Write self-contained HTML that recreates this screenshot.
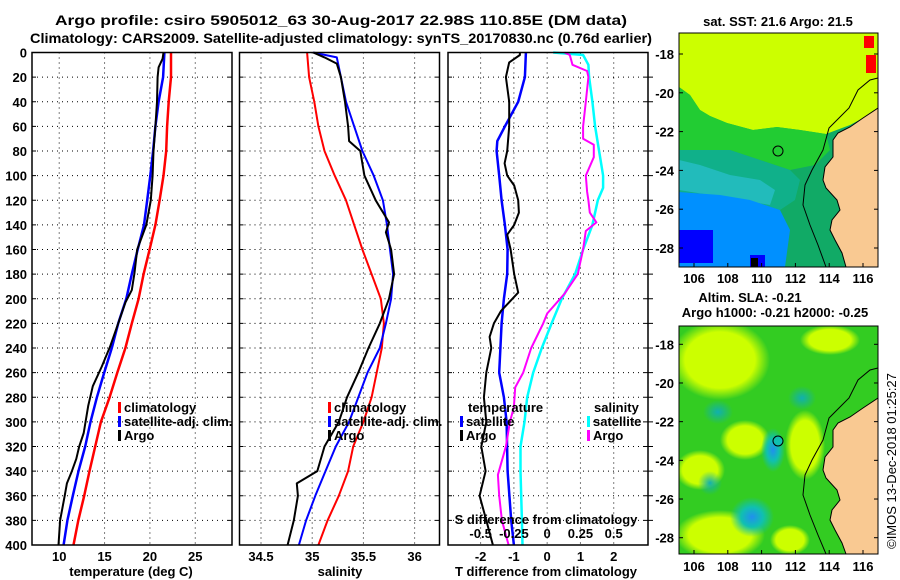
<!DOCTYPE html>
<html><head><meta charset="utf-8"><style>
html,body{margin:0;padding:0;background:#fff;}
svg{display:block;font-family:"Liberation Sans",sans-serif;font-weight:bold;}
</style></head><body>
<svg id="fig" width="900" height="580" viewBox="0 0 900 580" xmlns="http://www.w3.org/2000/svg">
<rect width="900" height="580" fill="#fff"/>
<text x="341" y="25" font-size="14" text-anchor="middle" textLength="572" lengthAdjust="spacingAndGlyphs">Argo profile: csiro 5905012_63 30-Aug-2017 22.98S 110.85E (DM data)</text>
<text x="341" y="43" font-size="14" text-anchor="middle" textLength="622" lengthAdjust="spacingAndGlyphs">Climatology: CARS2009. Satellite-adjusted climatology: synTS_20170830.nc (0.76d earlier)</text>

<!-- Map 1 -->
<g>
<text x="778" y="26" font-size="13" text-anchor="middle">sat. SST: 21.6 Argo: 21.5</text>
<clipPath id="c1"><rect x="679" y="33" width="199" height="234"/></clipPath>
<g clip-path="url(#c1)">
<rect x="679" y="33" width="199" height="234" fill="#11aa66"/>
<polygon fill="#ccff00" points="679,33 878,33 878,110 850,125 826,134 800,130 777,127 753,130 727,123 710,116 700,110 690,95 679,87"/>
<polygon fill="#22cc33" points="679,87 690,95 700,110 710,116 727,123 753,130 777,127 800,130 826,134 830,150 815,165 790,170 760,160 730,150 700,150 679,150"/>
<polygon fill="#10b08a" points="679,150 700,150 730,150 760,160 790,170 800,180 795,200 780,210 750,200 720,195 679,192"/>
<polygon fill="#22bbbb" points="679,160 700,165 730,175 760,180 775,190 770,205 740,200 710,195 679,190"/>
<polygon fill="#0090ff" points="679,192 720,195 750,200 780,210 790,230 785,267 679,267"/>
<rect x="679" y="230" width="34" height="33" fill="#0000ff"/>
<rect x="750" y="255" width="15" height="12" fill="#0000ff"/>
<rect x="751" y="258" width="7" height="9" fill="#000"/>
<rect x="864" y="36" width="10" height="12" fill="#ff0000"/>
<rect x="866" y="55" width="10" height="18" fill="#ff0000"/>
<polygon fill="#f9c992" points="878,108 863,118 850,127 838,133 833,140 833,157 825,167 823,180 826,188 837,200 840,210 832,220 830,230 835,240 842,253 846,267 878,267"/>
<polyline fill="none" stroke="#000" stroke-width="1" points="878,78 870,80 858,90 849,108 835,122 829,128 823,150 812,170 805,185 803,205 810,225 818,245 826,267"/>
<polyline fill="none" stroke="#000" stroke-width="1" points="878,108 863,118 850,127 838,133 833,140 833,157 825,167 823,180 826,188 837,200 840,210 832,220 830,230 835,240 842,253 846,267"/>
<circle cx="778" cy="151" r="5" fill="none" stroke="#000" stroke-width="1"/>
</g>
<rect x="679" y="33" width="199" height="234" fill="none" stroke="#000"/>
</g>

<!-- Map 2 -->
<g>
<text x="750" y="302" font-size="13" text-anchor="middle">Altim. SLA: -0.21</text>
<text x="775" y="317" font-size="13" text-anchor="middle">Argo h1000: -0.21 h2000: -0.25</text>
<defs>
<radialGradient id="b1"><stop offset="0" stop-color="#2090ee"/><stop offset="0.5" stop-color="#10c0b0"/><stop offset="1" stop-color="#10c0b0" stop-opacity="0"/></radialGradient>
<radialGradient id="b2"><stop offset="0" stop-color="#10b0b0"/><stop offset="1" stop-color="#10b0b0" stop-opacity="0"/></radialGradient>
<radialGradient id="y1"><stop offset="0" stop-color="#ccff00"/><stop offset="0.7" stop-color="#ccff00"/><stop offset="1" stop-color="#ccff00" stop-opacity="0"/></radialGradient>
</defs>
<clipPath id="c2"><rect x="679" y="326" width="199" height="228"/></clipPath>
<g clip-path="url(#c2)">
<rect x="679" y="326" width="199" height="228" fill="#33cc22"/>
<ellipse cx="720" cy="360" rx="50" ry="40" fill="url(#y1)"/>
<ellipse cx="830" cy="340" rx="30" ry="15" fill="url(#y1)"/>
<ellipse cx="805" cy="445" rx="20" ry="35" fill="url(#y1)"/>
<ellipse cx="745" cy="440" rx="25" ry="20" fill="url(#y1)"/>
<ellipse cx="700" cy="470" rx="25" ry="20" fill="url(#y1)"/>
<ellipse cx="720" cy="535" rx="45" ry="25" fill="url(#y1)"/>
<ellipse cx="790" cy="540" rx="20" ry="15" fill="url(#y1)"/>
<ellipse cx="773" cy="450" rx="12" ry="22" fill="url(#b1)"/>
<ellipse cx="752" cy="517" rx="22" ry="20" fill="url(#b1)"/>
<ellipse cx="802" cy="398" rx="14" ry="12" fill="url(#b2)"/>
<ellipse cx="718" cy="412" rx="15" ry="12" fill="url(#b2)"/>
<ellipse cx="710" cy="483" rx="12" ry="12" fill="url(#b2)"/>
<polygon fill="#f9c992" points="878,398 863,408 850,417 838,423 833,430 833,447 825,457 823,470 826,478 837,490 840,500 832,510 830,520 835,530 842,543 846,554 878,554"/>
<polyline fill="none" stroke="#000" stroke-width="1" points="878,368 870,370 858,380 849,398 835,412 829,418 823,440 812,460 805,475 803,495 810,515 818,535 826,554"/>
<polyline fill="none" stroke="#000" stroke-width="1" points="878,398 863,408 850,417 838,423 833,430 833,447 825,457 823,470 826,478 837,490 840,500 832,510 830,520 835,530 842,543 846,554"/>
<circle cx="778" cy="441" r="5" fill="#10c0b0" stroke="#000" stroke-width="1"/>
</g>
<rect x="679" y="326" width="199" height="228" fill="none" stroke="#000"/>
</g>
<text transform="translate(896,461) rotate(-90)" font-size="13" font-weight="normal" text-anchor="middle">©IMOS 13-Dec-2018 01:25:27</text>

<g id="panels"></g>
</svg>
<script>
// ---------- data (depth in dbar) ----------
const depthTicks = [0,20,40,60,80,100,120,140,160,180,200,220,240,260,280,300,320,340,360,380,400];
const tempTicks = [10,15,20,25];
const salTicks = [34.5,35,35.5,36];
const salTickLabels = ["34.5","35","35.5","36"];
const diffTTicks = [-2,-1,0,1,2];
const diffSLabels = ["-0.5","-0.25","0","0.25","0.5"];
const latTicks = [-18,-20,-22,-24,-26,-28];
const lonTicks = [106,108,110,112,114,116];

const tempClimDepth = [0,20,40,60,80,100,120,140,160,180,200,220,240,260,280,300,320,340,360,380,400];
const tempClim = [22.33,22.33,22.07,21.9,21.8,21.5,21.07,20.6,19.97,19.3,18.75,18.0,17.3,16.4,15.55,14.6,13.97,13.34,12.76,12.1,11.58];
const tempSatDepth = [0,20,40,60,80,100,120,140,160,180,200,220,240,260,280,300,320,340,360,380,400];
const tempSat = [21.6,21.45,20.96,20.6,20.35,20.04,19.7,19.35,18.65,18.0,17.4,16.5,15.8,14.96,14.15,13.45,12.87,12.13,11.5,10.9,10.48];
const tempArgoDepth = [0,5,12,20,40,60,80,100,120,140,160,179,193,203,220,239,255,271,287,309,320,330,340,350,360,380,400];
const tempArgo = [21.5,21.4,20.96,20.85,20.78,20.6,20.4,20.3,20.1,19.6,18.6,18.3,18.0,17.3,16.5,15.6,14.7,13.7,13.2,12.7,12.2,11.88,11.4,10.85,10.6,10.1,9.92];

const salClimDepth = [0,20,40,60,80,100,120,140,160,180,200,220,240,260,280,300,320,340,360,380,400];
const salClim = [34.95,34.97,35.02,35.06,35.12,35.22,35.33,35.41,35.49,35.58,35.67,35.70,35.68,35.63,35.58,35.50,35.40,35.35,35.26,35.15,35.06];
const salSatDepth = [0,4,20,40,60,80,100,120,140,160,180,200,220,240,260,280,300,320,340,360,380,400];
const salSat = [35.01,35.24,35.28,35.33,35.41,35.49,35.60,35.69,35.73,35.76,35.79,35.77,35.72,35.66,35.54,35.45,35.36,35.23,35.13,35.03,34.94,34.87];
const salArgoDepth = [0,4,9,20,40,60,72,80,100,120,138,146,160,180,200,220,240,260,280,300,320,340,350,360,380,400];
const salArgo = [35.01,35.12,35.24,35.28,35.32,35.35,35.36,35.47,35.51,35.62,35.75,35.72,35.77,35.80,35.75,35.66,35.55,35.45,35.34,35.26,35.12,35.05,34.85,34.86,34.82,34.76];

const dTSatDepth = [0,20,40,60,72,80,100,120,140,160,180,200,220,260,280,300,340,380,400];
const dTSat = [-0.64,-0.67,-0.87,-1.27,-1.5,-1.52,-1.44,-1.37,-1.27,-1.19,-1.2,-1.3,-1.37,-1.44,-1.3,-1.22,-1.19,-1.08,-1.0];
const dTArgoDepth = [0,2,8,20,40,60,80,90,100,108,120,130,140,148,160,180,195,210,220,231,240,260,280,300,320,340,360,380,400];
const dTArgo = [-0.82,-0.82,-1.14,-1.24,-1.14,-1.14,-1.2,-1.28,-1.2,-0.99,-0.87,-0.85,-0.99,-1.2,-1.1,-0.99,-0.87,-1.39,-1.6,-1.73,-1.68,-1.83,-1.9,-1.83,-1.98,-1.85,-2.03,-1.83,-1.63];
const dSSatDepth = [0,2,10,20,40,60,80,100,110,120,140,160,180,200,220,240,260,280,300,320,340,380,400];
const dSSat = [0.045,0.27,0.31,0.315,0.34,0.36,0.39,0.42,0.42,0.38,0.34,0.27,0.21,0.11,0.033,-0.04,-0.105,-0.15,-0.17,-0.2,-0.2,-0.19,-0.185];
const dSArgoDepth = [0,2,10,15,20,40,60,70,75,85,100,113,120,130,138,145,160,170,180,196,212,220,240,260,272,288,300,320,343,360,380,400];
const dSArgo = [0.13,0.17,0.19,0.3,0.31,0.29,0.27,0.27,0.35,0.35,0.29,0.3,0.31,0.32,0.37,0.29,0.27,0.25,0.23,0.13,0,-0.03,-0.12,-0.18,-0.24,-0.25,-0.28,-0.31,-0.37,-0.36,-0.34,-0.29];

// ---------- drawing ----------
const NS = "http://www.w3.org/2000/svg";
const root = document.getElementById("panels");
const Y0 = 52.5, Y1 = 545;
function yScale(d){ return Y0 + d/400*(Y1-Y0); }
function mk(tag, attrs, parent){
  const e = document.createElementNS(NS, tag);
  for (const k in attrs) e.setAttribute(k, attrs[k]);
  (parent||root).appendChild(e);
  return e;
}
function panel(name, x0, x1, dmin, dmax){
  const g = mk("g", {});
  
  
  const xs = v => x0 + (v-dmin)/(dmax-dmin)*(x1-x0);
  return {g, xs, x0, x1};
}
function grid(p, xticks){
  xticks.forEach(v=>{
    const l = mk("line",{x1:p.xs(v),x2:p.xs(v),y1:Y0,y2:Y1,stroke:"#000","stroke-width":1,"stroke-dasharray":"1,4"}, p.g);
    
    
  });
  depthTicks.forEach(d=>{
    if(d===0||d===400) return;
    const l = mk("line",{x1:p.x0,x2:p.x1,y1:yScale(d),y2:yScale(d),stroke:"#000","stroke-width":1,"stroke-dasharray":"1,4"}, p.g);
    
    
    mk("line",{x1:p.x0,x2:p.x0+4,y1:yScale(d),y2:yScale(d),stroke:"#000"},p.g);
    mk("line",{x1:p.x1-4,x2:p.x1,y1:yScale(d),y2:yScale(d),stroke:"#000"},p.g);
  });
}
function frame(p){
  const r = mk("rect",{x:p.x0,y:Y0,width:p.x1-p.x0,height:Y1-Y0,fill:"none",stroke:"#000","stroke-width":1.5},p.g);
  
  
}
function series(p, name, depths, vals, color, w){
  const pts = depths.map((d,i)=>p.xs(vals[i]).toFixed(1)+","+yScale(d).toFixed(1)).join(" ");
  const l = mk("polyline",{points:pts,fill:"none",stroke:color,"stroke-width":w,"stroke-linejoin":"round"},p.g);
  
  
}
function text(p, name, x, y, s, opts){
  const t = mk("text", Object.assign({x:x,y:y,"font-size":13}, opts||{}), p.g);
  t.textContent = s;
  
  
  return t;
}
function legendEntry(p, name, x, y, color, label){
  const b = mk("rect",{x:x,y:y-10,width:3,height:11,fill:color},p.g);
  
  
  text(p, name, x+6, y, label);
}

// Temperature panel
const pT = panel("temperature-panel", 32, 232, 7, 29.05);
grid(pT, tempTicks);
series(pT, "temp-climatology-line", tempClimDepth, tempClim, "#ff0000", 2.5);
series(pT, "temp-satellite-line", tempSatDepth, tempSat, "#0000ff", 2.5);
series(pT, "temp-argo-line", tempArgoDepth, tempArgo, "#000000", 2);
frame(pT);
depthTicks.forEach(d=>text(pT,"depth-tick-label",27,yScale(d)+5,String(d),{"text-anchor":"end"}));
tempTicks.forEach(v=>text(pT,"temp-tick-label",pT.xs(v),561,String(v),{"text-anchor":"middle"}));
text(pT,"temp-axis-title",131,576,"temperature (deg C)",{"text-anchor":"middle"});
legendEntry(pT,"legend-climatology",118,412,"#ff0000","climatology");
legendEntry(pT,"legend-satellite-adj",118,426,"#0000ff","satellite-adj. clim.");
legendEntry(pT,"legend-argo",118,440,"#000000","Argo");

// Salinity panel
const pS = panel("salinity-panel", 239.5, 439.5, 34.29, 36.243);
grid(pS, salTicks);
series(pS, "sal-climatology-line", salClimDepth, salClim, "#ff0000", 2);
series(pS, "sal-satellite-line", salSatDepth, salSat, "#0000ff", 2);
series(pS, "sal-argo-line", salArgoDepth, salArgo, "#000000", 2);
frame(pS);
salTicks.forEach((v,i)=>text(pS,"sal-tick-label",pS.xs(v),561,salTickLabels[i],{"text-anchor":"middle"}));
text(pS,"sal-axis-title",340,576,"salinity",{"text-anchor":"middle"});
legendEntry(pS,"legend-climatology-s",328,412,"#ff0000","climatology");
legendEntry(pS,"legend-satellite-adj-s",328,426,"#0000ff","satellite-adj. clim.");
legendEntry(pS,"legend-argo-s",328,440,"#000000","Argo");

// Difference panel
const pD = panel("difference-panel", 448, 648, -2.98, 3.03);
const pDS = {g:pD.g, x0:pD.x0, x1:pD.x1, xs: v => pD.xs(v*4)};
grid(pD, diffTTicks);
series(pD, "diff-t-satellite-line", dTSatDepth, dTSat, "#0000ff", 2.5);
series(pD, "diff-t-argo-line", dTArgoDepth, dTArgo, "#000000", 2);
series(pDS, "diff-s-satellite-line", dSSatDepth, dSSat, "#00ffff", 2.5);
series(pDS, "diff-s-argo-line", dSArgoDepth, dSArgo, "#ff00ff", 2);
frame(pD);
depthTicks.forEach(d=>{ if(d>0&&d<400) mk("line",{x1:648,x2:653,y1:yScale(d),y2:yScale(d),stroke:"#000"},pD.g); });
diffTTicks.forEach(v=>text(pD,"diff-t-tick-label",pD.xs(v),561,String(v),{"text-anchor":"middle"}));
diffTTicks.forEach((v,i)=>text(pD,"diff-s-tick-label",pD.xs(v),538,diffSLabels[i],{"text-anchor":"middle"}));
text(pD,"diff-s-axis-title",546,524,"S difference from climatology",{"text-anchor":"middle"});
text(pD,"diff-t-axis-title",546,576,"T difference from climatology",{"text-anchor":"middle"});
text(pD,"legend-temperature-heading",468,412,"temperature");
legendEntry(pD,"legend-t-satellite",460,426,"#0000ff","satellite");
legendEntry(pD,"legend-t-argo",460,440,"#000000","Argo");
text(pD,"legend-salinity-heading",594,412,"salinity");
legendEntry(pD,"legend-s-satellite",587,426,"#00ffff","satellite");
legendEntry(pD,"legend-s-argo",587,440,"#ff00ff","Argo");

// Map axes
const mapAx = mk("g",{});


function lonX(l){ return 694 + (l-106)*16.9; }
[[54,19.4,267,283],[344.3,19.34,554,571]].forEach(m=>{
  latTicks.forEach(la=>{
    const y = m[0] + (-18-la)*m[1];
    mk("line",{x1:679,x2:683,y1:y,y2:y,stroke:"#000"},mapAx);
    mk("line",{x1:874,x2:878,y1:y,y2:y,stroke:"#000"},mapAx);
    const t = mk("text",{x:674,y:y+5,"font-size":13,"text-anchor":"end"},mapAx);
    t.textContent = String(la);
    
    
  });
  lonTicks.forEach(lo=>{
    const x = lonX(lo);
    mk("line",{x1:x,x2:x,y1:m[2]-4,y2:m[2],stroke:"#000"},mapAx);
    const t = mk("text",{x:x,y:m[3],"font-size":13,"text-anchor":"middle"},mapAx);
    t.textContent = String(lo);
    
    
  });
});
</script>
</body></html>
